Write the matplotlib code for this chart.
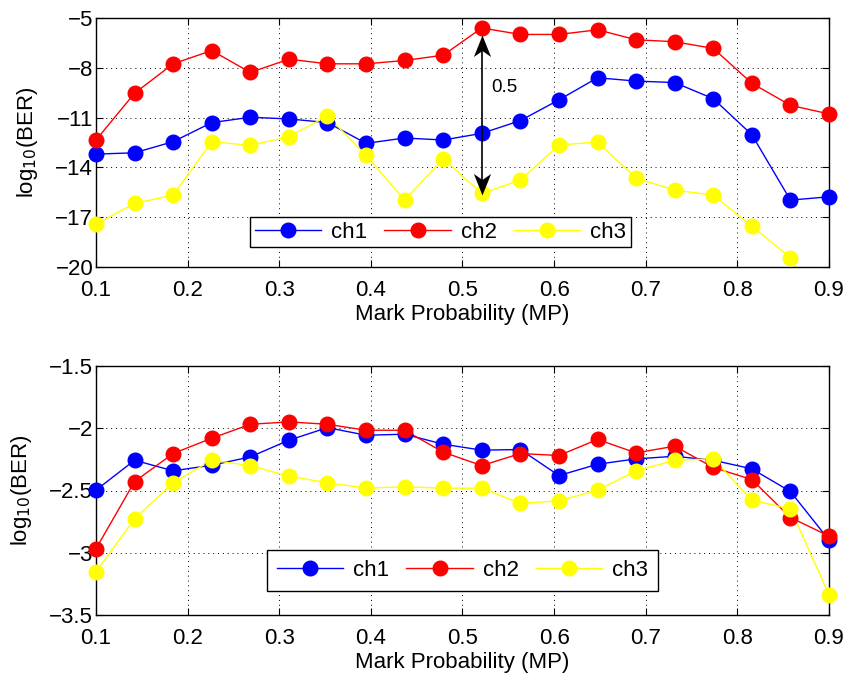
import numpy as np
import matplotlib
matplotlib.use("Agg")
import matplotlib.pyplot as plt
import matplotlib.lines as mlines
from matplotlib.path import Path

plt.rcParams['font.family'] = ['Liberation Sans', 'DejaVu Sans']

mp = np.linspace(0.1, 0.9, 20)

top_ch1 = [-13.2, -13.12, -12.45, -11.3, -10.98, -11.08, -11.3, -12.55, -12.23, -12.35,
           -11.95, -11.18, -9.93, -8.6, -8.8, -8.89, -9.86, -12.03, -15.97, -15.77]
top_ch2 = [-12.35, -9.53, -7.76, -6.96, -8.28, -7.48, -7.76, -7.76, -7.56, -7.24,
           -5.6, -5.99, -5.99, -5.71, -6.31, -6.43, -6.83, -8.93, -10.26, -10.78]
top_ch3 = [-17.42, -16.17, -15.67, -12.45, -12.67, -12.15, -10.9, -13.28, -15.97, -13.48,
           -15.57, -14.77, -12.65, -12.47, -14.65, -15.37, -15.67, -17.54, -19.43, -23.2]

bot_ch1 = [-2.497, -2.257, -2.342, -2.297, -2.23, -2.096, -1.995, -2.056, -2.048, -2.128,
           -2.176, -2.171, -2.38, -2.289, -2.246, -2.225, -2.257, -2.326, -2.508, -2.898]
bot_ch2 = [-2.968, -2.428, -2.203, -2.08, -1.968, -1.949, -1.968, -2.016, -2.016, -2.192,
           -2.3, -2.203, -2.219, -2.09, -2.198, -2.144, -2.315, -2.412, -2.717, -2.866]
bot_ch3 = [-3.155, -2.727, -2.438, -2.257, -2.3, -2.385, -2.438, -2.481, -2.47, -2.481,
           -2.481, -2.604, -2.583, -2.497, -2.342, -2.257, -2.246, -2.578, -2.647, -3.337]

names = ['ch1', 'ch2', 'ch3']
colors = ['#0000ff', '#ff0000', '#ffff00']

top_yticks = [-20, -17, -14, -11, -8, -5]
bot_yticks = [-3.5, -3, -2.5, -2, -1.5]
xticks = [0.1, 0.2, 0.3, 0.4, 0.5, 0.6, 0.7, 0.8, 0.9]

# annotation: difference arrow between ch2 and ch3 at MP index 10
arrow_idx = 10
arrow_top = -6.0
arrow_bottom = -15.67
arrow_label = '0.5'

fig = plt.figure(figsize=(8.45, 6.74), dpi=100)
ax1 = fig.add_axes([96/845, 1-267/674, 733/845, 249/674])
ax2 = fig.add_axes([96/845, 1-615/674, 733/845, 249/674])

FS = 16
MS = 10.5

def draw(ax, series, ylim, yticks, ylabels, leg_center, leg_pad):
    for ys, c, n in zip(series, colors, names):
        ys = np.array(ys)
        ax.plot(mp, ys, '-', color=c, lw=1.0, zorder=2)
        m = (ys >= ylim[0]) & (ys <= ylim[1])
        ax.plot(mp[m], ys[m], 'o', color=c, ms=MS, clip_on=False, zorder=3)
    ax.set_xlim(0.1, 0.9)
    ax.set_ylim(*ylim)
    ax.set_xticks(xticks)
    ax.set_xticklabels([f'{t:g}' for t in xticks])
    ax.set_yticks(yticks)
    ax.set_yticklabels(ylabels)
    ax.tick_params(direction='in', top=True, right=True, labelsize=FS, length=5, width=0.8)
    ax.tick_params(axis='x', pad=9)
    ax.tick_params(axis='y', pad=2)
    ax.grid(True, linestyle=(0, (1, 4)), color='black', lw=0.7)
    for s in ax.spines.values():
        s.set_linewidth(1.0)
    ax.set_xlabel('Mark Probability (MP)', fontsize=FS, labelpad=2.5)
    ax.set_ylabel(r'log$_{10}$(BER)', fontsize=FS, labelpad=11)
    hs = [mlines.Line2D([], [], color=c, lw=1.0, marker='o', ms=MS) for c in colors]
    leg = ax.legend(hs, names, loc='center', bbox_to_anchor=leg_center, ncol=3,
                    fontsize=FS, frameon=True, fancybox=False, edgecolor='black',
                    handlelength=3.0, columnspacing=0.75, handletextpad=0.45,
                    borderpad=leg_pad, borderaxespad=0, framealpha=1)
    leg.get_frame().set_linewidth(1.0)
    leg.set_zorder(5)

draw(ax1, [top_ch1, top_ch2, top_ch3], (-20, -5), top_yticks,
     ['\u221220', '\u221217', '\u221214', '\u221211', '\u22128', '\u22125'],
     (0.47, 0.14), 0.2)
draw(ax2, [bot_ch1, bot_ch2, bot_ch3], (-3.5, -1.5), bot_yticks,
     ['\u22123.5', '\u22123', '\u22122.5', '\u22122', '\u22121.5'],
     (0.5, 0.178), 0.45)

# stealth-shaped arrowheads (tip at marker origin)
up_head = Path([(0, 0), (-0.4, -1.0), (0, -0.72), (0.4, -1.0), (0, 0)],
               [Path.MOVETO, Path.LINETO, Path.LINETO, Path.LINETO, Path.CLOSEPOLY])
down_head = Path([(0, 0), (-0.4, 1.0), (0, 0.72), (0.4, 1.0), (0, 0)],
                 [Path.MOVETO, Path.LINETO, Path.LINETO, Path.LINETO, Path.CLOSEPOLY])
ax = ax1
xa = mp[arrow_idx]
ax.plot([xa, xa], [arrow_top - 0.5, arrow_bottom + 0.5], color='black', lw=1.2, zorder=6)
ax.plot([xa], [arrow_top], marker=up_head, ms=31, color='black', mew=0, zorder=7)
ax.plot([xa], [arrow_bottom], marker=down_head, ms=31, color='black', mew=0, zorder=7)
ax.text(0.531, -9.2, arrow_label, fontsize=13.5, ha='left', va='center')

fig.savefig('out.png', dpi=100)
